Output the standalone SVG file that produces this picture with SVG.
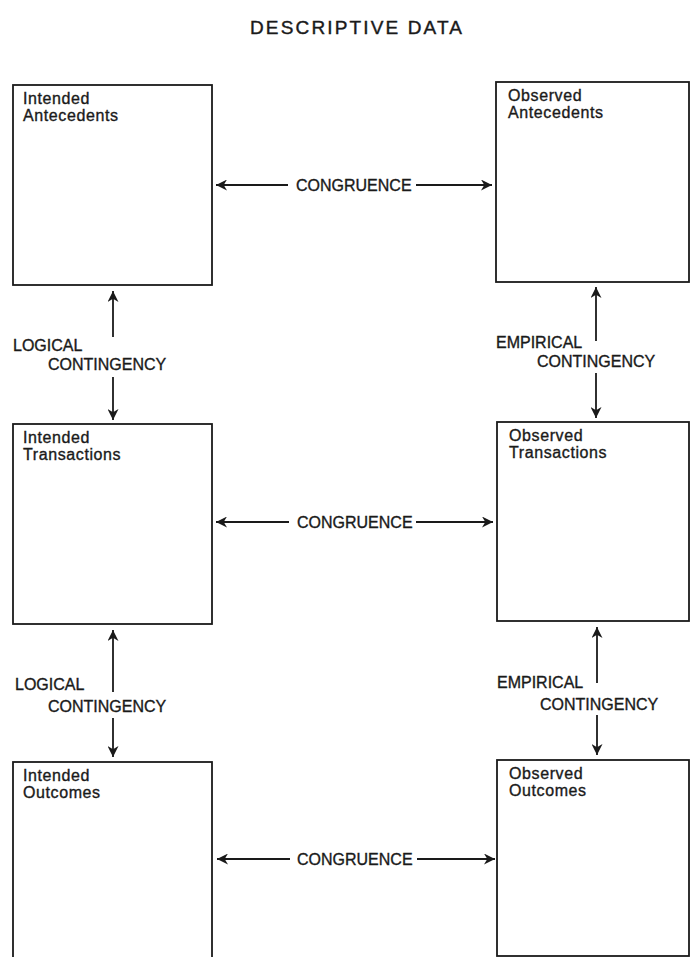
<svg xmlns="http://www.w3.org/2000/svg" width="690" height="957" viewBox="0 0 690 957">
<style>
  .box { fill: #fff; stroke: #1a1a1a; stroke-width: 1.8; }
  .lbl { font-family: "Liberation Sans", Arial, sans-serif; font-size: 16px; fill: #1a1a1a; stroke: #1a1a1a; stroke-width: 0.35; letter-spacing: 0.6px; }
  .cap { font-family: "Liberation Sans", Arial, sans-serif; font-size: 16px; fill: #1a1a1a; stroke: #1a1a1a; stroke-width: 0.35; }
  .ttl { font-family: "Liberation Sans", Arial, sans-serif; font-size: 19px; fill: #1a1a1a; stroke: #1a1a1a; stroke-width: 0.4; }
  .conn line { stroke: #1a1a1a; stroke-width: 1.8; fill: none; }
</style>
<defs>
  <marker id="ah" viewBox="0 0 10 10" refX="10" refY="5" markerWidth="11" markerHeight="11" markerUnits="userSpaceOnUse" orient="auto">
    <path d="M0,0 L10,5 L0,10 L3,5 Z" fill="#1a1a1a"/>
  </marker>
</defs>
<rect width="690" height="957" fill="#fff"/>
<text class="ttl" x="250" y="34" textLength="212" lengthAdjust="spacing">DESCRIPTIVE  DATA</text>

<g id="intended-antecedents">
  <rect class="box" x="13" y="85" width="199" height="200"/>
  <text class="lbl" x="23" y="104">Intended</text>
  <text class="lbl" x="23" y="121">Antecedents</text>
</g>
<g id="observed-antecedents">
  <rect class="box" x="496" y="82" width="193" height="200"/>
  <text class="lbl" x="508" y="101">Observed</text>
  <text class="lbl" x="508" y="118">Antecedents</text>
</g>
<g id="intended-transactions">
  <rect class="box" x="13" y="424" width="199" height="200"/>
  <text class="lbl" x="23" y="443">Intended</text>
  <text class="lbl" x="23" y="460">Transactions</text>
</g>
<g id="observed-transactions">
  <rect class="box" x="497" y="422" width="192" height="199"/>
  <text class="lbl" x="509" y="441">Observed</text>
  <text class="lbl" x="509" y="458">Transactions</text>
</g>
<g id="intended-outcomes">
  <rect class="box" x="13" y="762" width="199" height="210"/>
  <text class="lbl" x="23" y="781">Intended</text>
  <text class="lbl" x="23" y="798">Outcomes</text>
</g>
<g id="observed-outcomes">
  <rect class="box" x="497" y="760" width="192" height="196"/>
  <text class="lbl" x="509" y="779">Observed</text>
  <text class="lbl" x="509" y="796">Outcomes</text>
</g>

<g id="connectors" class="conn">
  <line x1="288" y1="185" x2="216" y2="185" marker-end="url(#ah)"/>
  <line x1="416" y1="185" x2="492" y2="185" marker-end="url(#ah)"/>
  <text class="cap" x="296" y="191">CONGRUENCE</text>
  <line x1="289" y1="522" x2="216" y2="522" marker-end="url(#ah)"/>
  <line x1="416" y1="522" x2="493" y2="522" marker-end="url(#ah)"/>
  <text class="cap" x="297" y="528">CONGRUENCE</text>
  <line x1="290" y1="859" x2="217" y2="859" marker-end="url(#ah)"/>
  <line x1="417" y1="859" x2="495" y2="859" marker-end="url(#ah)"/>
  <text class="cap" x="297" y="865">CONGRUENCE</text>

  <line x1="113" y1="337" x2="113" y2="291" marker-end="url(#ah)"/>
  <line x1="113" y1="377" x2="113" y2="420" marker-end="url(#ah)"/>
  <text class="cap" x="13" y="351">LOGICAL</text>
  <text class="cap" x="48" y="370">CONTINGENCY</text>
  <line x1="113" y1="692" x2="113" y2="630" marker-end="url(#ah)"/>
  <line x1="113" y1="718" x2="113" y2="757" marker-end="url(#ah)"/>
  <text class="cap" x="15" y="690">LOGICAL</text>
  <text class="cap" x="48" y="712">CONTINGENCY</text>

  <line x1="596" y1="341" x2="596" y2="287" marker-end="url(#ah)"/>
  <line x1="596" y1="373" x2="596" y2="418" marker-end="url(#ah)"/>
  <text class="cap" x="496" y="348">EMPIRICAL</text>
  <text class="cap" x="537" y="367">CONTINGENCY</text>
  <line x1="597" y1="683" x2="597" y2="627" marker-end="url(#ah)"/>
  <line x1="597" y1="715" x2="597" y2="755" marker-end="url(#ah)"/>
  <text class="cap" x="497" y="688">EMPIRICAL</text>
  <text class="cap" x="540" y="710">CONTINGENCY</text>
</g>
</svg>
